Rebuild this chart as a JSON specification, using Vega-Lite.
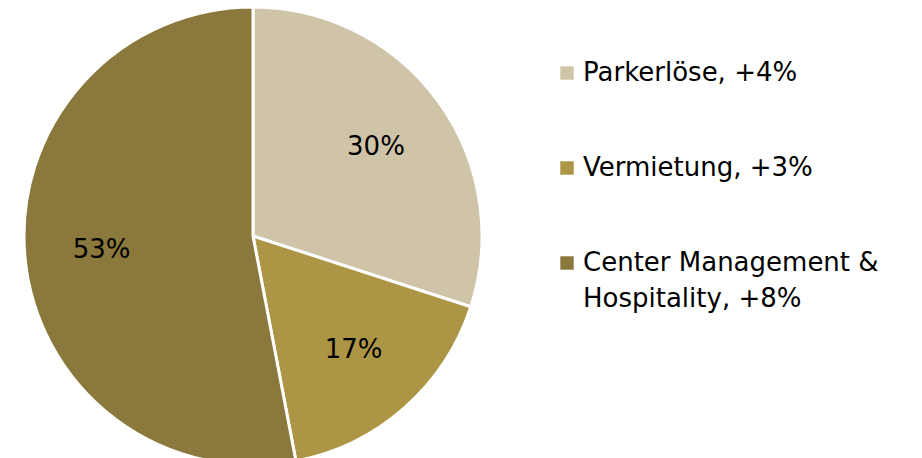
{
  "$schema": "https://vega.github.io/schema/vega-lite/v6.json",
  "width": 506,
  "height": 472,
  "padding": 0,
  "background": "white",
  "config": {
    "view": {"stroke": null},
    "font": "DejaVu Sans",
    "style": {"guide-label": {"lineHeight": 36}}
  },
  "data": {
    "values": [
      {"category": "Parkerlöse, +4%", "rank": 1, "share": 30, "label": "30%"},
      {"category": "Vermietung, +3%", "rank": 2, "share": 17, "label": "17%"},
      {"category": "Center Management & Hospitality, +8%", "rank": 3, "share": 53, "label": "53%"}
    ]
  },
  "encoding": {
    "theta": {"field": "share", "type": "quantitative", "stack": true},
    "order": {"field": "rank", "type": "quantitative", "sort": "ascending"}
  },
  "layer": [
    {
      "mark": {"type": "arc", "outerRadius": 229, "stroke": "white", "strokeWidth": 3},
      "encoding": {
        "color": {
          "field": "category",
          "type": "nominal",
          "sort": ["Parkerlöse, +4%", "Vermietung, +3%", "Center Management & Hospitality, +8%"],
          "scale": {
            "domain": ["Parkerlöse, +4%", "Vermietung, +3%", "Center Management & Hospitality, +8%"],
            "range": ["#CFC3A8", "#AD9546", "#8B783C"]
          },
          "legend": {
            "orient": "none",
            "legendX": 554,
            "legendY": 60,
            "title": null,
            "symbolType": "square",
            "symbolSize": 180,
            "symbolStrokeWidth": 0,
            "labelFontSize": 26,
            "labelFont": "DejaVu Sans",
            "labelColor": "#000000",
            "labelOffset": 3,
            "labelLimit": 0,
            "rowPadding": 69,
            "padding": 0,
            "labelExpr": "datum.label == 'Center Management & Hospitality, +8%' ? ['Center Management &', 'Hospitality, +8%'] : datum.label",
            "encode": {"labels": {"update": {"lineHeight": {"value": 36}}}}
          }
        }
      }
    },
    {
      "mark": {"type": "text", "radius": 152, "fontSize": 26, "font": "DejaVu Sans", "color": "#000000"},
      "encoding": {"text": {"field": "label"}, "detail": {"field": "category", "type": "nominal"}}
    }
  ]
}
